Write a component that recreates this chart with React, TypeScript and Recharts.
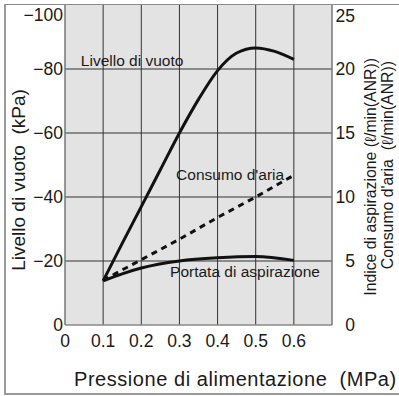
import { CartesianGrid, Line, LineChart, ReferenceDot, XAxis, YAxis } from "recharts";

const pressureTicks = [0, 0.1, 0.2, 0.3, 0.4, 0.5, 0.6];
const vacuumTicks = [-100, -80, -60, -40, -20, 0];
const flowTicks = [0, 5, 10, 15, 20, 25];

// Livello di vuoto (kPa), left axis
const vacuumPressure = [0.1, 0.15, 0.2, 0.25, 0.3, 0.35, 0.4, 0.45, 0.5, 0.55, 0.6];
const vacuumLevel = [-13.8, -25.5, -37, -48.5, -60, -70.5, -79.5, -85, -86.6, -85.5, -83];

// Consumo d'aria (l/min ANR), right axis
const consumptionPressure = [0.1, 0.2, 0.3, 0.4, 0.5, 0.6];
const airConsumption = [3.5, 5.1, 6.7, 8.4, 10.0, 11.7];

// Portata di aspirazione (l/min ANR), right axis
const suctionPressure = [0.1, 0.15, 0.2, 0.3, 0.4, 0.5, 0.6];
const suctionFlow = [3.45, 4.0, 4.45, 5.0, 5.25, 5.35, 5.05];

const vacuumData = vacuumPressure.map((p, i) => ({ p, v: vacuumLevel[i] }));
const consumptionData = consumptionPressure.map((p, i) => ({ p, v: airConsumption[i] }));
const suctionData = suctionPressure.map((p, i) => ({ p, v: suctionFlow[i] }));

const FONT = "'Liberation Sans', Arial, Helvetica, sans-serif";
const INK = "#1a1a1a";

function LeftTick({ x, y, payload }: any) {
  const v = payload.value;
  return (
    <text x={x} y={Math.max(y, 15)} dy="0.355em" textAnchor="end" fontSize={17.5} fill={INK}>
      {v === 0 ? "0" : "\u2212" + Math.abs(v)}
    </text>
  );
}

function RightTick({ x, y, payload }: any) {
  return (
    <text x={x} y={Math.max(y, 16)} dy="0.355em" textAnchor="end" fontSize={17.5} fill={INK}>
      {payload.value}
    </text>
  );
}

function BottomTick({ x, y, payload }: any) {
  return (
    <text x={x} y={y} dy="0.71em" textAnchor="middle" fontSize={17.5} fill={INK}>
      {String(payload.value)}
    </text>
  );
}

const curveLabel = (value: string) => ({
  value,
  position: "center" as const,
  fontSize: 15.5,
  fill: INK,
});

export default function App() {
  return (
    <div
      style={{
        position: "absolute",
        left: 0,
        top: 0,
        width: 399,
        height: 396,
        background: "#fff",
        fontFamily: FONT,
      }}
    >
      <div
        style={{
          position: "absolute",
          left: 4,
          top: 4,
          width: 395,
          height: 391,
          boxSizing: "border-box",
          borderTop: "1px solid #8a8a8a",
          borderLeft: "2px solid #9a9a9a",
          borderBottom: "2px solid #9a9a9a",
        }}
      />
      <div style={{ position: "absolute", left: 0, top: 0 }}>
        <LineChart width={399} height={396} margin={{ top: 5, right: 0, bottom: 0, left: 0 }}>
          <CartesianGrid
            yAxisId="left"
            fill="#e3e3e3"
            stroke="#333"
            strokeWidth={1}
            verticalValues={[0.1, 0.2, 0.3, 0.4, 0.5, 0.6]}
            horizontalValues={[-20, -40, -60, -80]}
          />
          <XAxis
            dataKey="p"
            type="number"
            domain={[0, 0.7]}
            ticks={pressureTicks}
            interval={0}
            allowDataOverflow
            height={71}
            tickSize={0}
            tickMargin={10}
            tickLine={false}
            axisLine={{ stroke: "#8a8a8a", strokeWidth: 1.5 }}
            tick={<BottomTick />}
          />
          <YAxis
            yAxisId="left"
            orientation="left"
            type="number"
            domain={[-100, 0]}
            ticks={vacuumTicks}
            interval={0}
            reversed
            width={65}
            tickSize={0}
            tickMargin={2}
            tickLine={false}
            axisLine={{ stroke: "#777", strokeWidth: 1.5 }}
            tick={<LeftTick />}
          />
          <YAxis
            yAxisId="right"
            orientation="right"
            type="number"
            domain={[0, 25]}
            ticks={flowTicks}
            interval={0}
            width={67}
            tickSize={0}
            tickMargin={23}
            tickLine={false}
            axisLine={{ stroke: "#777", strokeWidth: 1.5 }}
            tick={<RightTick />}
          />
          <Line
            yAxisId="left"
            data={vacuumData}
            dataKey="v"
            type="monotone"
            stroke="#111"
            strokeWidth={3}
            dot={false}
            isAnimationActive={false}
          />
          <Line
            yAxisId="right"
            data={consumptionData}
            dataKey="v"
            type="linear"
            stroke="#111"
            strokeWidth={3}
            strokeDasharray="6 5"
            dot={false}
            isAnimationActive={false}
          />
          <Line
            yAxisId="right"
            data={suctionData}
            dataKey="v"
            type="monotone"
            stroke="#111"
            strokeWidth={3}
            dot={false}
            isAnimationActive={false}
          />
          <ReferenceDot yAxisId="left" x={0.176} y={-82.8} r={0} fill="none" stroke="none" label={curveLabel("Livello di vuoto")} />
          <ReferenceDot yAxisId="left" x={0.433} y={-46.9} r={0} fill="none" stroke="none" label={curveLabel("Consumo d'aria")} />
          <ReferenceDot yAxisId="left" x={0.472} y={-16.6} r={0} fill="none" stroke="none" label={curveLabel("Portata di aspirazione")} />
        </LineChart>
      </div>
      <svg
        width={399}
        height={396}
        style={{ position: "absolute", left: 0, top: 0, pointerEvents: "none" }}
        fontFamily={FONT}
        fill={INK}
      >
        <text x={74} y={386} fontSize={20} letterSpacing={0.55} style={{ whiteSpace: "pre" }}>
          {"Pressione di alimentazione  (MPa)"}
        </text>
        <text transform="translate(25,180) rotate(-90)" textAnchor="middle" fontSize={19} style={{ whiteSpace: "pre" }}>
          {"Livello di vuoto  (kPa)"}
        </text>
        <text transform="translate(376,58) rotate(-90)" textAnchor="end" fontSize={15.8} style={{ whiteSpace: "pre" }}>
          {"Indice di aspirazione (\u2113/min(ANR))"}
        </text>
        <text transform="translate(393,61) rotate(-90)" textAnchor="end" fontSize={15.8} style={{ whiteSpace: "pre" }}>
          {"Consumo d'aria  (\u2113/min(ANR))"}
        </text>
      </svg>
    </div>
  );
}
